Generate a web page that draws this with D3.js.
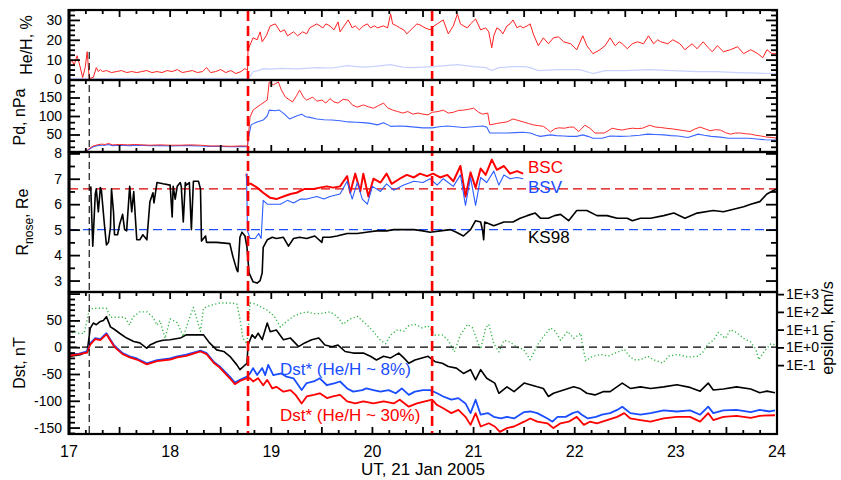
<!DOCTYPE html>
<html><head><meta charset="utf-8">
<script src="https://cdn.jsdelivr.net/npm/d3@7"></script>
<style>body{margin:0;background:#fff} svg{font-family:Arial,"Liberation Sans",sans-serif}</style>
</head><body><svg id="c" width="841" height="480"></svg>
<script>
// ---------------- DATA (day of Jan 2005, value) ----------------
const dayTicks = [17,18,19,20,21,22,23,24];
const heTicks = [0,10,20,30];
const pdTicks = [50,100,150];
const rTicks = [3,4,5,6,7,8];
const dstTicks = [50,0,-50,-100,-150];
const epsTicks = [1e3,1e2,1e1,1e0,1e-1];
const epsLabels = ["1E+3","1E+2","1E+1","1E+0","1E-1"];
const eventDays = [18.77, 20.59];
const onsetDay = 17.2;
const bscLevel = 6.6, bsvLevel = 5.0;

const heHRed = [[17.00,7],[17.03,10],[17.05,7],[17.08,12],[17.11,6.4],[17.135,1],[17.16,6],[17.18,14],[17.20,0.5],[17.24,1],[17.27,6],[17.29,4],[17.31,5],[17.33,4],[17.37,4.5],[17.42,3.5],[17.47,4],[17.52,4.5],[17.57,3.5],[17.62,4],[17.67,3.5],[17.72,4],[17.77,4.5],[17.82,3.5],[17.87,4],[17.92,3.5],[17.97,4.5],[18.02,4],[18.07,5],[18.12,3.5],[18.17,4],[18.22,4.5],[18.27,3.5],[18.32,4],[18.36,6],[18.40,3.5],[18.45,4],[18.50,5],[18.55,3.5],[18.60,4.5],[18.65,3],[18.70,4],[18.74,5.5],[18.765,4.5],[18.77,15],[18.82,21],[18.86,20],[18.89,24],[18.91,19],[18.95,22],[18.99,27],[19.04,28],[19.09,24],[19.13,25],[19.16,22],[19.22,24],[19.26,22],[19.31,24],[19.35,23],[19.38,26],[19.45,28],[19.51,26],[19.54,28],[19.58,27],[19.62,25],[19.66,29],[19.68,24],[19.72,27],[19.76,30],[19.80,26],[19.83,27],[19.87,25],[19.91,27],[19.95,28],[19.98,26],[20.02,27],[20.05,26],[20.11,27],[20.15,26],[20.18,33],[20.20,28],[20.24,27],[20.27,26],[20.31,25],[20.34,23],[20.40,26],[20.44,28],[20.47,27.5],[20.52,26],[20.57,25],[20.61,27],[20.64,28],[20.70,30],[20.75,23],[20.80,27],[20.84,33],[20.87,28],[20.90,27],[20.94,26],[20.97,28],[21.02,30.5],[21.07,25],[21.12,26],[21.15,24],[21.18,16],[21.20,22],[21.23,26],[21.26,25],[21.29,23],[21.33,27],[21.36,28],[21.39,30],[21.43,26],[21.46,27],[21.49,26],[21.53,27],[21.56,28],[21.59,23],[21.64,17],[21.69,21],[21.74,18],[21.79,21],[21.84,21.5],[21.89,19],[21.96,18],[22.02,15],[22.08,22],[22.12,17],[22.15,15],[22.18,13],[22.25,15],[22.30,17],[22.35,21],[22.40,17],[22.44,19],[22.47,18],[22.52,15.5],[22.57,18],[22.62,19],[22.68,18],[22.73,22],[22.78,18],[22.82,20],[22.85,19],[22.92,18],[22.97,20],[23.04,18],[23.09,15],[23.16,18],[23.21,15.5],[23.27,19],[23.32,16],[23.36,14],[23.41,17],[23.47,14],[23.54,15],[23.61,16.5],[23.67,13],[23.74,15],[23.81,13],[23.86,11],[23.90,15],[23.95,13],[24.0,13]];

const heHBlue = [[17.0,0.6],[17.3,0.5],[17.6,0.6],[18.0,0.5],[18.4,0.6],[18.76,0.5],[18.79,1.5],[18.82,4],[18.87,4.5],[18.92,5.5],[19.0,5.2],[19.09,5.6],[19.26,5.4],[19.45,6],[19.6,5.8],[19.75,7],[19.9,6.2],[20.0,6.5],[20.18,7.5],[20.3,6.2],[20.4,6],[20.6,6.5],[20.84,7.5],[21.0,6.5],[21.12,6],[21.18,4.5],[21.25,6],[21.39,6.5],[21.5,6.5],[21.56,6],[21.64,4.5],[21.84,5],[22.05,5],[22.18,3],[22.3,4.5],[22.5,4.5],[22.73,5],[22.97,4.5],[23.21,4],[23.4,4],[23.61,3.5],[23.8,3.2],[24.0,3]];

const pdRed = [[17.0,3],[17.12,3],[17.17,5],[17.20,12],[17.24,19],[17.28,22],[17.32,24],[17.36,23],[17.39,26],[17.43,22],[17.5,23],[17.58,22],[17.65,23],[17.72,22],[17.8,21],[17.9,22],[18.0,21],[18.1,21],[18.2,22],[18.3,21],[18.4,19],[18.5,19],[18.6,18],[18.7,19],[18.765,19],[18.77,35],[18.79,97],[18.82,116],[18.89,130],[18.96,143],[18.98,192],[19.02,184],[19.07,192],[19.1,170],[19.14,151],[19.21,138],[19.25,155],[19.28,170],[19.32,150],[19.35,143],[19.41,151],[19.45,140],[19.50,143],[19.54,135],[19.58,147],[19.62,138],[19.66,135],[19.71,145],[19.76,143],[19.80,130],[19.85,124],[19.91,130],[19.96,125],[20.01,121],[20.06,128],[20.11,135],[20.15,122],[20.20,116],[20.25,112],[20.30,108],[20.35,112],[20.40,105],[20.45,108],[20.50,105],[20.55,103],[20.59,110],[20.65,112],[20.70,116],[20.75,108],[20.80,110],[20.85,115],[20.90,116],[20.95,118],[21.00,121],[21.05,110],[21.09,105],[21.14,108],[21.16,76],[21.20,78],[21.23,80],[21.28,82],[21.33,84],[21.39,92],[21.44,88],[21.49,84],[21.54,80],[21.59,76],[21.64,74],[21.69,72],[21.73,64],[21.76,57],[21.80,65],[21.84,68],[21.90,67],[21.95,70],[21.99,70],[22.04,58],[22.10,75],[22.15,67],[22.20,54],[22.29,54],[22.33,60],[22.37,67],[22.42,64],[22.47,62],[22.52,65],[22.57,67],[22.62,66],[22.67,67],[22.74,75],[22.80,70],[22.85,69],[22.90,67],[22.97,65],[23.04,62],[23.09,60],[23.14,58],[23.19,65],[23.24,70],[23.29,65],[23.34,60],[23.39,63],[23.44,62],[23.49,55],[23.54,51],[23.59,54],[23.64,54],[23.69,52],[23.74,51],[23.79,48],[23.84,46],[23.90,43],[23.95,42],[24.0,40]];

const pdBlue = [[17.0,3],[17.12,3],[17.17,5],[17.20,10],[17.24,17],[17.28,20],[17.32,21],[17.36,21],[17.39,23],[17.43,20],[17.5,21],[17.6,20],[17.7,21],[17.8,20],[17.9,20],[18.0,19],[18.1,20],[18.2,20],[18.3,19],[18.4,18],[18.5,18],[18.6,17],[18.7,18],[18.765,17],[18.77,35],[18.80,76],[18.86,84],[18.92,89],[18.96,100],[18.98,116],[19.04,114],[19.08,116],[19.13,105],[19.18,92],[19.25,100],[19.30,105],[19.34,98],[19.37,97],[19.45,92],[19.52,90],[19.60,89],[19.68,87],[19.76,84],[19.84,83],[19.91,82],[19.98,80],[20.05,76],[20.11,82],[20.14,78],[20.18,72],[20.26,73],[20.34,72],[20.42,70],[20.50,68],[20.59,68],[20.66,71],[20.74,73],[20.82,71],[20.90,69],[21.00,71],[21.09,73],[21.13,70],[21.16,54],[21.25,54],[21.33,54],[21.41,55],[21.49,56],[21.56,54],[21.62,48],[21.66,45],[21.71,47],[21.76,49],[21.82,47],[21.89,46],[21.95,45],[22.02,45],[22.08,49],[22.13,45],[22.18,40],[22.27,40],[22.35,46],[22.45,45],[22.55,46],[22.64,48],[22.72,51],[22.80,50],[22.88,49],[22.95,47],[23.02,46],[23.12,42],[23.22,51],[23.28,48],[23.35,45],[23.44,43],[23.52,40],[23.62,40],[23.72,40],[23.80,38],[23.88,36],[24.0,35]];

const rKS98 = [[17.215,6.7],[17.235,4.35],[17.26,6.4],[17.27,6.6],[17.29,5.7],[17.31,6.65],[17.32,6.55],[17.35,5.2],[17.37,4.4],[17.39,4.5],[17.41,5.1],[17.42,6.6],[17.44,5.7],[17.45,4.8],[17.48,4.8],[17.50,5.2],[17.53,5.6],[17.55,5.0],[17.57,4.95],[17.60,6.7],[17.62,5.7],[17.64,6.5],[17.67,4.6],[17.70,4.6],[17.73,4.8],[17.77,4.6],[17.80,6.1],[17.83,6.45],[17.84,6.05],[17.87,6.85],[17.93,6.8],[18.00,6.75],[18.02,5.5],[18.03,6.7],[18.05,6.2],[18.07,6.7],[18.10,6.85],[18.11,6.7],[18.13,5.3],[18.15,6.85],[18.16,6.75],[18.19,6.85],[18.21,5.0],[18.23,6.9],[18.28,6.9],[18.30,6.6],[18.31,4.55],[18.35,4.75],[18.36,4.5],[18.46,4.5],[18.59,4.45],[18.62,3.95],[18.66,3.4],[18.67,3.35],[18.69,4.7],[18.71,4.9],[18.74,4.75],[18.76,4.3],[18.78,3.3],[18.82,2.95],[18.86,2.9],[18.89,3.0],[18.91,3.3],[18.92,4.3],[18.96,4.6],[19.01,4.7],[19.05,4.65],[19.12,4.7],[19.17,4.35],[19.22,4.65],[19.28,4.7],[19.35,4.65],[19.43,4.75],[19.50,4.5],[19.51,4.7],[19.58,4.7],[19.65,4.75],[19.75,4.85],[19.85,4.85],[19.94,4.9],[20.04,4.95],[20.14,4.95],[20.21,5.0],[20.31,5.0],[20.41,5.0],[20.50,4.95],[20.57,4.9],[20.67,4.95],[20.77,5.0],[20.83,4.9],[20.90,4.75],[20.97,5.0],[21.02,5.35],[21.07,5.3],[21.09,4.95],[21.10,4.6],[21.11,5.3],[21.20,5.15],[21.30,5.3],[21.39,5.3],[21.46,5.45],[21.53,5.55],[21.61,5.65],[21.66,5.45],[21.74,5.45],[21.80,5.55],[21.86,5.6],[21.94,5.35],[22.02,5.75],[22.12,5.75],[22.22,5.55],[22.32,5.55],[22.42,5.45],[22.52,5.45],[22.57,5.35],[22.65,5.45],[22.75,5.45],[22.88,5.55],[22.98,5.65],[23.09,5.45],[23.21,5.65],[23.37,5.75],[23.47,5.7],[23.57,5.8],[23.67,5.9],[23.74,6.0],[23.83,6.1],[23.90,6.4],[23.97,6.55],[24.0,6.6]];

const rBSC = [[18.755,7.2],[18.765,6.8],[18.80,6.8],[18.86,6.65],[18.92,6.45],[18.99,6.25],[19.05,6.2],[19.12,6.3],[19.19,6.4],[19.25,6.45],[19.33,6.6],[19.42,6.6],[19.48,6.65],[19.55,6.7],[19.61,6.65],[19.68,6.7],[19.75,7.1],[19.78,6.45],[19.83,7.2],[19.88,6.5],[19.91,7.2],[19.96,6.3],[20.01,7.0],[20.08,6.85],[20.14,7.2],[20.19,6.8],[20.27,7.0],[20.34,7.15],[20.41,7.05],[20.47,7.2],[20.54,7.1],[20.60,7.2],[20.67,7.05],[20.74,7.15],[20.80,6.9],[20.87,7.5],[20.92,6.3],[20.97,7.25],[21.02,6.65],[21.07,7.4],[21.12,7.15],[21.18,7.75],[21.23,7.35],[21.30,7.5],[21.36,7.2],[21.43,7.3],[21.49,7.2]];

const rBSV = [[18.755,7.2],[18.765,4.95],[18.79,4.65],[18.84,4.65],[18.875,4.85],[18.90,4.65],[18.92,6.15],[18.96,6.0],[19.03,6.0],[19.09,6.0],[19.16,6.15],[19.22,6.05],[19.29,6.2],[19.35,6.2],[19.45,6.3],[19.52,6.2],[19.58,6.3],[19.68,6.4],[19.75,6.9],[19.80,6.2],[19.85,6.85],[19.90,6.2],[19.95,6.0],[20.00,6.7],[20.08,6.5],[20.14,6.8],[20.21,6.55],[20.31,6.75],[20.41,6.9],[20.50,6.85],[20.57,7.0],[20.64,6.75],[20.70,7.0],[20.80,6.7],[20.87,7.15],[20.92,5.95],[20.97,7.05],[21.02,5.95],[21.07,7.05],[21.13,6.85],[21.20,7.3],[21.25,6.75],[21.30,7.15],[21.36,7.0],[21.43,7.05],[21.49,7.0]];

const dst = [[17.0,-17.5],[17.11,-14],[17.18,-8],[17.21,35],[17.24,45],[17.27,42],[17.31,48],[17.34,50],[17.37,57],[17.41,38],[17.45,33],[17.50,26],[17.57,17],[17.64,10.5],[17.70,8],[17.77,-2],[17.80,4],[17.87,10],[17.93,13],[18.0,14],[18.10,17],[18.16,23],[18.26,23],[18.33,23],[18.39,8],[18.46,-5],[18.53,-8],[18.59,-17],[18.66,-33],[18.69,-42],[18.76,-30],[18.77,4],[18.81,23],[18.84,17],[18.87,26],[18.91,14],[18.96,45],[18.99,29],[19.05,32],[19.12,14],[19.19,17],[19.27,1],[19.33,8],[19.40,14],[19.47,17],[19.53,4],[19.60,1],[19.66,4],[19.73,-8],[19.81,-11],[19.91,-11],[19.98,-17],[20.04,-24],[20.11,-17],[20.18,-20],[20.26,-11],[20.31,-20],[20.36,-30],[20.42,-24],[20.49,-20],[20.55,-17],[20.62,-27],[20.69,-30],[20.75,-36],[20.83,-39],[20.90,-49],[20.97,-42],[21.02,-61],[21.07,-42],[21.13,-58],[21.21,-67],[21.25,-86],[21.33,-74],[21.40,-83],[21.50,-67],[21.56,-70],[21.63,-74],[21.69,-77],[21.74,-92],[21.79,-86],[21.89,-80],[21.99,-74],[22.05,-77],[22.12,-86],[22.20,-89],[22.28,-83],[22.35,-83],[22.47,-67],[22.55,-77],[22.65,-74],[22.75,-77],[22.88,-74],[23.01,-70],[23.14,-75],[23.24,-82],[23.32,-67],[23.37,-80],[23.47,-78],[23.60,-74],[23.74,-78],[23.83,-85],[23.90,-82],[23.98,-85]];

const dstStar8 = [[17.0,-14.5],[17.1,-12],[17.18,-8],[17.21,7.5],[17.26,17],[17.31,15],[17.37,26],[17.44,5],[17.47,-1],[17.53,-11],[17.60,-17],[17.67,-21],[17.77,-30],[17.87,-24],[18.0,-21],[18.07,-17],[18.16,-14],[18.23,-10],[18.30,-6.5],[18.36,-11],[18.43,-27],[18.49,-36],[18.59,-55],[18.64,-66],[18.69,-61],[18.76,-55],[18.79,-49],[18.82,-39],[18.86,-52],[18.91,-39],[18.94,-52],[18.97,-33],[19.02,-52],[19.10,-49],[19.15,-55],[19.22,-58],[19.30,-80],[19.35,-67],[19.42,-64],[19.48,-58],[19.55,-71],[19.63,-67],[19.68,-64],[19.75,-77],[19.81,-83],[19.90,-80],[19.94,-77],[20.01,-80],[20.08,-83],[20.16,-80],[20.23,-86],[20.29,-77],[20.36,-89],[20.42,-83],[20.50,-80],[20.57,-80],[20.64,-86],[20.70,-92],[20.78,-98],[20.85,-95],[20.92,-105],[20.97,-123],[21.02,-98],[21.07,-126],[21.14,-123],[21.20,-130],[21.27,-133],[21.33,-130],[21.40,-133],[21.50,-121],[21.56,-120],[21.63,-123],[21.73,-133],[21.78,-139],[21.83,-130],[21.91,-130],[21.98,-123],[22.03,-120],[22.07,-126],[22.13,-133],[22.21,-130],[22.27,-126],[22.35,-123],[22.42,-117],[22.47,-111],[22.55,-123],[22.65,-126],[22.75,-123],[22.88,-118],[23.01,-120],[23.14,-118],[23.24,-126],[23.32,-111],[23.37,-123],[23.47,-118],[23.60,-117],[23.74,-121],[23.83,-117],[23.93,-120],[23.98,-118]];

const dstStar30 = [[17.0,-16],[17.1,-13],[17.18,-10],[17.21,5],[17.26,15],[17.31,13],[17.37,24],[17.44,3],[17.47,-3],[17.53,-13],[17.60,-19],[17.67,-23],[17.77,-32],[17.87,-26],[18.0,-23],[18.07,-19],[18.16,-16],[18.23,-12],[18.30,-8],[18.36,-13],[18.43,-29],[18.49,-38],[18.59,-58],[18.64,-69],[18.69,-63],[18.76,-58],[18.79,-58],[18.82,-64],[18.87,-58],[18.92,-71],[18.96,-61],[19.01,-77],[19.05,-74],[19.12,-83],[19.19,-80],[19.24,-89],[19.30,-105],[19.35,-92],[19.42,-89],[19.48,-86],[19.55,-95],[19.61,-92],[19.68,-89],[19.75,-101],[19.83,-105],[19.91,-101],[20.01,-105],[20.11,-101],[20.21,-105],[20.27,-98],[20.36,-111],[20.44,-105],[20.52,-101],[20.59,-98],[20.64,-108],[20.70,-114],[20.78,-123],[20.85,-117],[20.92,-130],[20.97,-145],[21.02,-123],[21.07,-148],[21.15,-142],[21.21,-148],[21.26,-158],[21.33,-151],[21.40,-148],[21.50,-139],[21.56,-133],[21.63,-139],[21.73,-142],[21.79,-151],[21.86,-142],[21.94,-139],[22.02,-130],[22.09,-145],[22.15,-139],[22.22,-142],[22.32,-136],[22.42,-130],[22.49,-123],[22.55,-133],[22.65,-136],[22.75,-139],[22.88,-133],[23.01,-130],[23.14,-130],[23.24,-139],[23.32,-123],[23.37,-136],[23.47,-130],[23.60,-128],[23.74,-132],[23.83,-128],[23.98,-127]];

const epsilon = [[17.0,5],[17.05,8],[17.1,6],[17.15,6.3],[17.2,126],[17.24,160],[17.3,160],[17.37,160],[17.41,50],[17.48,50],[17.55,50],[17.6,18],[17.63,50],[17.7,100],[17.77,100],[17.83,50],[17.87,18],[17.9,32],[17.95,3.2],[18.0,40],[18.07,25],[18.13,4],[18.2,63],[18.23,178],[18.3,8],[18.33,160],[18.39,224],[18.49,316],[18.59,316],[18.66,282],[18.69,40],[18.72,3.2],[18.76,1.6],[18.79,316],[18.84,282],[18.89,200],[18.96,126],[19.03,56],[19.09,14],[19.16,32],[19.22,56],[19.28,80],[19.35,100],[19.42,80],[19.48,80],[19.58,100],[19.65,56],[19.71,20],[19.78,40],[19.85,56],[19.94,20],[20.0,9],[20.08,2.5],[20.13,1.6],[20.18,5],[20.25,10],[20.31,8],[20.35,16],[20.42,20],[20.49,12.6],[20.55,16],[20.62,5],[20.69,5],[20.75,2.5],[20.81,0.56],[20.87,5],[20.94,20],[20.99,12.6],[21.04,2],[21.07,0.8],[21.12,12.6],[21.15,20],[21.2,1.6],[21.25,0.56],[21.3,2.5],[21.36,2],[21.43,1],[21.49,0.8],[21.56,0.2],[21.63,1.35],[21.69,4],[21.76,12.6],[21.81,8],[21.86,2.5],[21.93,8],[21.99,3.2],[22.06,6.3],[22.08,1],[22.11,0.18],[22.18,0.32],[22.26,0.4],[22.33,0.32],[22.43,0.56],[22.49,0.8],[22.54,0.32],[22.59,0.2],[22.65,0.2],[22.72,0.32],[22.78,0.2],[22.87,0.13],[22.93,0.32],[23.02,0.4],[23.12,0.28],[23.22,0.32],[23.27,0.56],[23.32,1.6],[23.37,2.5],[23.42,7],[23.49,3.2],[23.54,10],[23.61,6.3],[23.67,3.2],[23.74,2],[23.79,0.8],[23.82,0.2],[23.87,0.56],[23.94,1.6],[23.98,1.4]];

// ---------------- DRAWING ----------------
const svg = d3.select("#c");
const L = 69, R = 777;
const P = [{y0:10,y1:80},{y0:80,y1:152},{y0:152,y1:292},{y0:292,y1:434}];
const X = d3.scaleLinear().domain([17,24]).range([L,R]);
const yHe = d3.scaleLinear().domain([-0.25,35]).range([80,10]);
const yPd = d3.scaleLinear().domain([0,200]).range([153,79]);
const yR = d3.scaleLinear().domain([2.55,8.05]).range([292,152]);
const yDst = d3.scaleLinear().domain([-162,103]).range([434,292]);
const yEps = d3.scaleLog().domain([1.318e-5,1318]).range([434,292]);

const defs = svg.append("defs");
P.forEach((p,i)=>defs.append("clipPath").attr("id","cp"+i).append("rect")
  .attr("x",L).attr("y",p.y0).attr("width",R-L).attr("height",p.y1-p.y0));

function series(i, data, y, color, w, dash, op){
  const line = d3.line().x(d=>X(d[0])).y(d=>y(d[1]));
  svg.append("path").datum(data).attr("clip-path",`url(#cp${i})`)
    .attr("d",line).attr("fill","none").attr("stroke",color)
    .attr("stroke-width",w).attr("stroke-dasharray",dash||null)
    .attr("stroke-linejoin","round").attr("opacity",op||1);
}
function hline(i, y, v, color, w, dash){
  svg.append("line").attr("x1",L).attr("x2",R).attr("y1",y(v)).attr("y2",y(v))
    .attr("stroke",color).attr("stroke-width",w).attr("stroke-dasharray",dash);
}

// panel 1
series(0, heHBlue, yHe, "#c8d2ff", 1.2);
series(0, heHRed, yHe, "#ff2020", 1);
// panel 2
series(1, pdBlue, yPd, "#3a66ff", 1.1);
series(1, pdRed, yPd, "#ff2a2a", 1);
// panel 3
hline(2, yR, bscLevel, "#e00000", 1.3, "9,5");
hline(2, yR, bsvLevel, "#1d4fff", 1.3, "9,5");
series(2, rBSC, yR, "#ff0000", 2);
series(2, rBSV, yR, "#2a5cff", 1.1);
series(2, rKS98, yR, "#000", 1.6);
// panel 4
series(3, epsilon, yEps, "#32b446", 1.4, "1.2,2.4");
hline(3, yDst, 0, "#000", 1.2, "8,5");
series(3, dst, yDst, "#000", 1.6);
series(3, dstStar8, yDst, "#1a4dff", 1.8);
series(3, dstStar30, yDst, "#ff0000", 1.8);

// vertical markers
svg.append("line").attr("x1",X(onsetDay)).attr("x2",X(onsetDay)).attr("y1",52).attr("y2",434)
  .attr("stroke","#000").attr("stroke-width",1.1).attr("stroke-dasharray","7,4");
eventDays.forEach(d=>svg.append("line").attr("x1",X(d)).attr("x2",X(d)).attr("y1",11).attr("y2",434)
  .attr("stroke","#ff0000").attr("stroke-width",2.6).attr("stroke-dasharray","10,5"));

// frames
P.forEach(p=>svg.append("rect").attr("x",L).attr("y",p.y0).attr("width",R-L).attr("height",p.y1-p.y0)
  .attr("fill","none").attr("stroke","#000").attr("stroke-width",2.2));
svg.append("line").attr("x1",L).attr("x2",L).attr("y1",9).attr("y2",435).attr("stroke","#000").attr("stroke-width",3);

// y axes
function yAxis(scale, majors, minors, labels, fmt){
  const clean = g=>{g.select(".domain").remove(); g.selectAll("line").attr("stroke-width",1.8); g.selectAll("text").attr("font-size",14).attr("fill","#000");};
  svg.append("g").attr("transform",`translate(${L},0)`).call(d3.axisLeft(scale).tickValues(minors).tickSize(-6).tickFormat("")).call(clean);
  svg.append("g").attr("transform",`translate(${L},0)`).call(d3.axisLeft(scale).tickValues(majors).tickSize(-11).tickPadding(7)
    .tickFormat(d=>labels.includes(d)?(fmt?fmt(d):d):"")).call(clean).attr("font-family",null);
  if (fmt !== "noright"){
    svg.append("g").attr("transform",`translate(${R},0)`).call(d3.axisRight(scale).tickValues(minors).tickSize(-6).tickFormat("")).call(clean);
    svg.append("g").attr("transform",`translate(${R},0)`).call(d3.axisRight(scale).tickValues(majors).tickSize(-11).tickFormat("")).call(clean);
  }
}
yAxis(yHe, [0,10,20,30], d3.range(0,35.1,2.5).filter(v=>v%10), heTicks);
yAxis(yPd, [0,50,100,150], [0,50,100,150].flatMap(m=>[m+50/3,m+100/3]).filter(v=>v<200), pdTicks);
yAxis(yR, rTicks, [3.5,4.5,5.5,6.5,7.5], rTicks);
// Dst left only
(function(){
  const clean = g=>{g.select(".domain").remove(); g.selectAll("line").attr("stroke-width",1.8); g.selectAll("text").attr("font-size",14).attr("fill","#000");};
  const minors = d3.range(-160,101,10).filter(v=>v%50);
  svg.append("g").attr("transform",`translate(${L},0)`).call(d3.axisLeft(yDst).tickValues(minors).tickSize(-6).tickFormat("")).call(clean);
  svg.append("g").attr("transform",`translate(${L},0)`).call(d3.axisLeft(yDst).tickValues([-150,-100,-50,0,50,100]).tickSize(-11).tickPadding(7)
    .tickFormat(d=>dstTicks.includes(d)?d:"")).call(clean);
  svg.append("g").attr("transform",`translate(${R},0)`).call(d3.axisRight(yEps).tickValues(epsTicks).tickSize(7).tickPadding(2)
    .tickFormat((d,i)=>epsLabels[i])).call(clean);
})();

// x ticks
function xTicks(y, dir){
  d3.range(0,43).forEach(k=>{
    const d = 17 + k/6, len = (k%3===0)?7:4;
    svg.append("line").attr("x1",X(d)).attr("x2",X(d)).attr("y1",y).attr("y2",y+dir*len)
      .attr("stroke","#000").attr("stroke-width",1.8);
  });
}
xTicks(10,1); xTicks(80,1); xTicks(152,-1); xTicks(292,1); xTicks(434,-1);
svg.append("g").selectAll("text").data(dayTicks).join("text")
  .attr("x",d=>X(d)).attr("y",457).attr("text-anchor","middle").attr("font-size",16).text(d=>d);
svg.append("text").attr("x",423).attr("y",475).attr("text-anchor","middle").attr("font-size",17).text("UT, 21 Jan 2005");

// y titles
function ytitle(x, y, txt){
  return svg.append("text").attr("transform",`translate(${x},${y}) rotate(-90)`).attr("text-anchor","middle").attr("font-size",16).text(txt);
}
ytitle(32,45,"He/H, %");
ytitle(25,117,"Pd, nPa");
const rt = svg.append("text").attr("transform","translate(28,222) rotate(-90)").attr("text-anchor","middle").attr("font-size",16);
rt.append("tspan").text("R");
rt.append("tspan").attr("font-size",12).attr("dy",5).text("nose");
rt.append("tspan").attr("dy",-5).text(", Re");
ytitle(25,363,"Dst, nT");
ytitle(833,328,"epsilon, km/s");

// series labels
const lab = (x,y,c,t)=>svg.append("text").attr("x",x).attr("y",y).attr("fill",c).attr("font-size",17).text(t);
lab(528,173,"#ff0000","BSC");
lab(528,193,"#1a4dff","BSV");
lab(528,243,"#000","KS98");
lab(280,375,"#1a4dff","Dst* (He/H ~ 8%)");
lab(280,421,"#ff0000","Dst* (He/H ~ 30%)");
</script></body></html>
